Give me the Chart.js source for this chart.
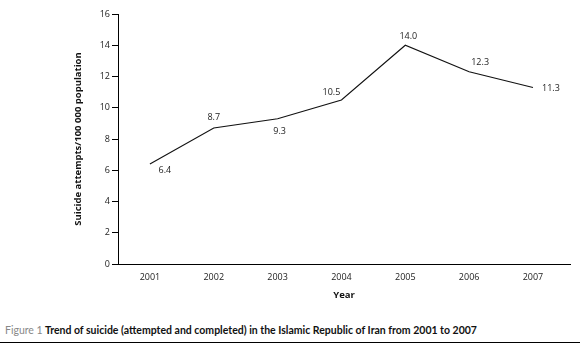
<!DOCTYPE html>
<html lang="en">

<head>
    <meta charset="UTF-8" />
    <title>Trend of suicide, Islamic Republic of Iran 2001-2007</title>
    <script src="https://cdn.jsdelivr.net/npm/chart.js"></script>
    <style>
        body {
            margin: 0;
            background: #fff;
            font-family: 'Open Sans', sans-serif;
        }

        .wrap {
            position: relative;
            width: 580px;
            height: 345px;
        }

        .plot {
            position: absolute;
            left: 0;
            top: 0;
            width: 580px;
            height: 310px;
        }

        .caption {
            position: absolute;
            left: 5px;
            top: 324px;
            font-family: Lato, sans-serif;
            font-size: 10.5px;
            font-weight: bold;
            color: #111;
            white-space: nowrap;
        }

        .caption span {
            font-weight: normal;
            color: #888;
        }

        .rule {
            position: absolute;
            left: 0;
            top: 342px;
            width: 580px;
            height: 1px;
            background: #000;
        }
    </style>
</head>

<body>
    <div class="wrap">
        <div class="plot"><canvas id="trendChart"></canvas></div>
        <div class="caption"><span>Figure 1</span> Trend of suicide (attempted and completed) in the Islamic Republic of Iran from 2001 to 2007</div>
        <div class="rule"></div>
    </div>

    <script>
        const years = [2001, 2002, 2003, 2004, 2005, 2006, 2007];
        const rates = [6.4, 8.7, 9.3, 10.5, 14.0, 12.3, 11.3];
        const yTicks = [0, 2, 4, 6, 8, 10, 12, 14, 16];

        // where each value label sits relative to its point
        const labelOffsets = [[15, 6], [0, -11], [2, 13], [-10, -8], [3, -9], [11, -9], [18, 1]];

        const valueLabels = {
            id: 'valueLabels',
            afterDatasetsDraw(chart) {
                const ctx = chart.ctx;
                const meta = chart.getDatasetMeta(0);
                ctx.save();
                ctx.font = '9px "Open Sans", sans-serif';
                ctx.fillStyle = '#222';
                ctx.textAlign = 'center';
                ctx.textBaseline = 'middle';
                meta.data.forEach((pt, i) => {
                    const [dx, dy] = labelOffsets[i];
                    ctx.fillText(rates[i].toFixed(1), pt.x + dx, pt.y + dy);
                });
                ctx.restore();
            }
        };

        const tickFont = { family: '"Open Sans", sans-serif', size: 9 };
        const titleFont = { family: '"Open Sans", sans-serif', size: 9.5, weight: 'bold' };

        new Chart(document.getElementById('trendChart'), {
            type: 'line',
            data: {
                datasets: [{
                    data: years.map((y, i) => ({ x: y, y: rates[i] })),
                    borderColor: '#111',
                    borderWidth: 1.1,
                    pointRadius: 0,
                    tension: 0,
                    fill: false
                }]
            },
            options: {
                responsive: true,
                maintainAspectRatio: false,
                animation: false,
                layout: { padding: { top: 14, right: 10, left: 73, bottom: 0 } },
                plugins: {
                    legend: { display: false },
                    tooltip: { enabled: false }
                },
                scales: {
                    x: {
                        type: 'linear',
                        min: 2000.5,
                        max: 2007.58,
                        afterBuildTicks: (scale) => {
                            scale.ticks = years.map(v => ({ value: v }));
                        },
                        afterFit: (scale) => { scale.height = 46; },
                        grid: { display: false },
                        border: { display: true, color: '#000', width: 1 },
                        ticks: {
                            color: '#222',
                            font: tickFont,
                            padding: 0,
                            callback: v => String(v)
                        },
                        title: {
                            display: true,
                            text: 'Year',
                            color: '#111',
                            font: titleFont,
                            padding: { top: 2, bottom: 9 }
                        }
                    },
                    y: {
                        min: 0,
                        max: 16,
                        afterBuildTicks: (scale) => {
                            scale.ticks = yTicks.map(v => ({ value: v }));
                        },
                        afterFit: (scale) => { scale.width = 45; },
                        grid: {
                            drawOnChartArea: false,
                            drawTicks: true,
                            tickLength: 6,
                            color: '#000'
                        },
                        border: { display: true, color: '#000', width: 1 },
                        ticks: {
                            color: '#222',
                            font: tickFont,
                            padding: 2
                        },
                        title: {
                            display: true,
                            text: 'Suicide attempts/100 000 population',
                            color: '#111',
                            font: titleFont,
                            padding: { top: 0, bottom: 4 }
                        }
                    }
                }
            },
            plugins: [valueLabels]
        });
    </script>
</body>

</html>
